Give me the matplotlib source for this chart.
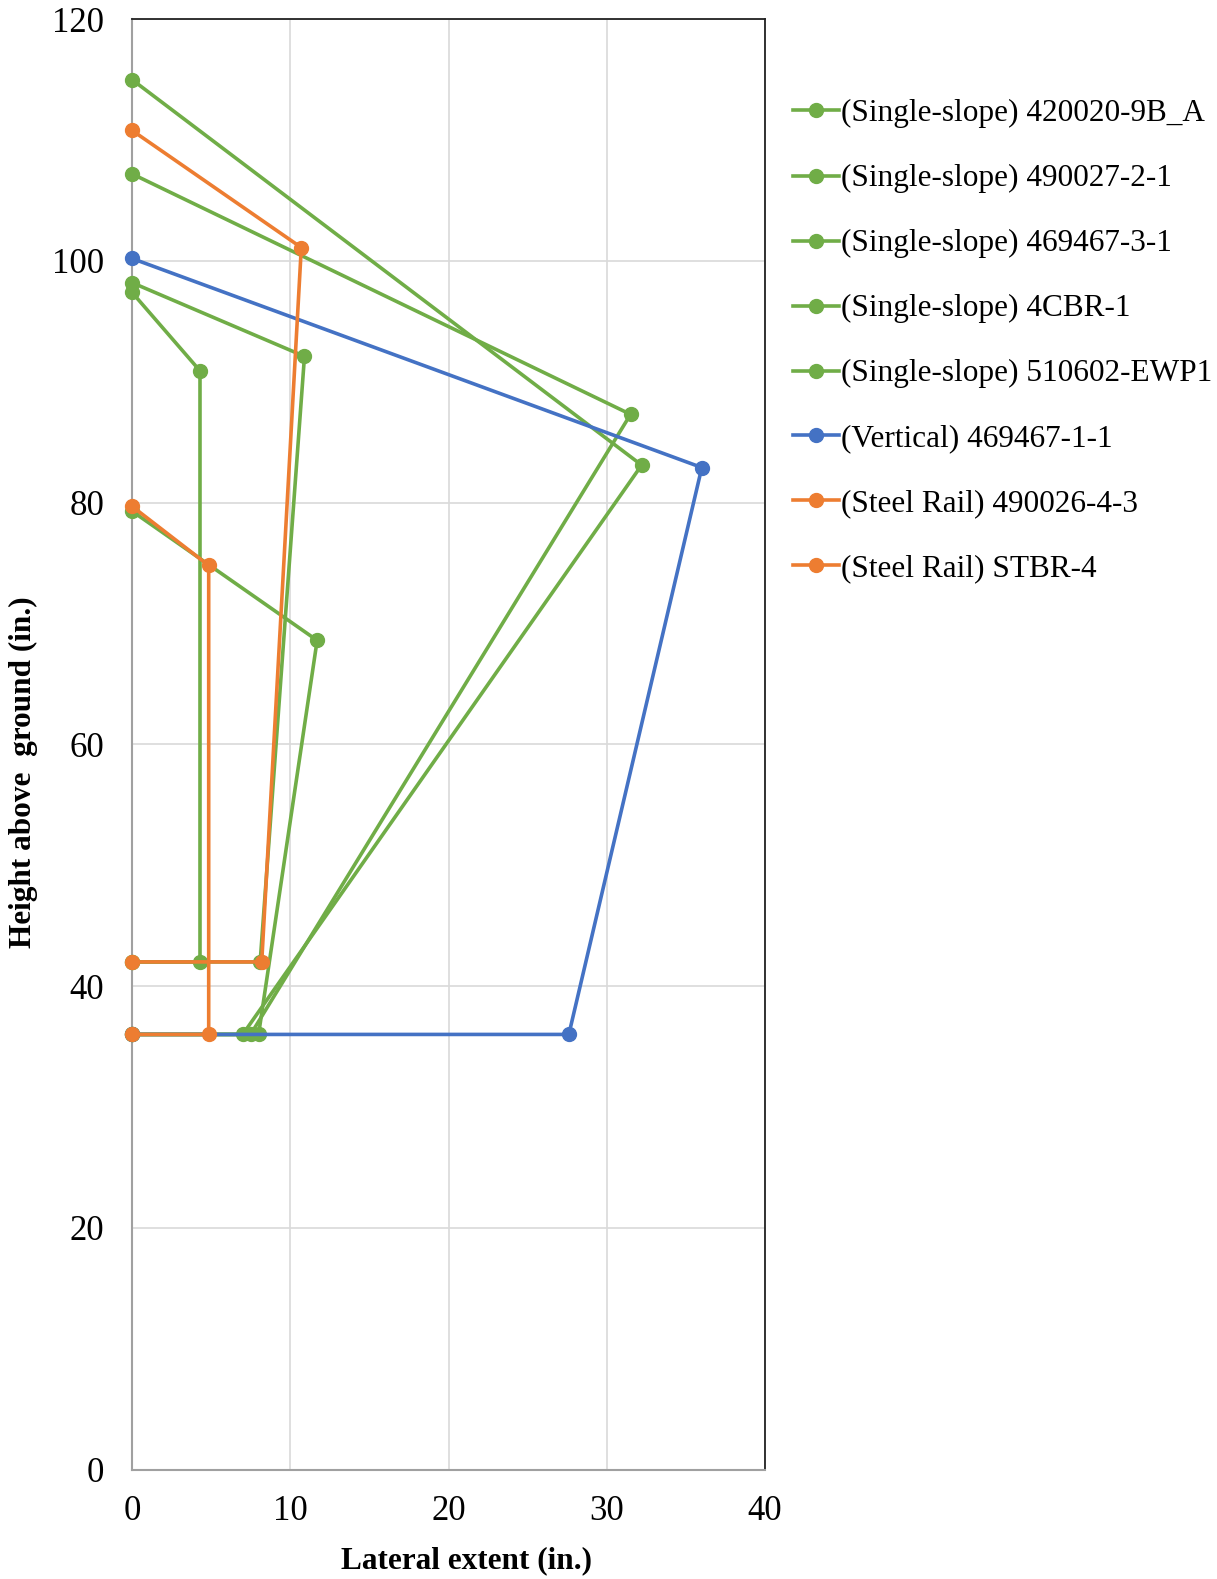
import matplotlib.pyplot as plt

plt.rcParams['font.family'] = ['Liberation Serif', 'DejaVu Serif']

GREEN = "#70AD47"
ORANGE = "#ED7D31"
BLUE = "#4472C4"

# x = lateral extent, y = height above ground (in.)
ss_420020_x = [0, 32.2, 7.0, 0]
ss_420020_y = [115.0, 83.1, 36, 36]
ss_490027_x = [0, 31.5, 7.5, 0]
ss_490027_y = [107.2, 87.3, 36, 36]
ss_469467_x = [0, 11.7, 8.0, 0]
ss_469467_y = [79.3, 68.6, 36, 36]
ss_4cbr_x = [0, 10.9, 8.1, 0]
ss_4cbr_y = [98.2, 92.1, 42, 42]
ss_510602_x = [0, 4.3, 4.3, 0]
ss_510602_y = [97.4, 90.9, 42, 42]
vert_469467_x = [0, 36.0, 27.6, 0]
vert_469467_y = [100.2, 82.9, 36, 36]
steel_490026_x = [0, 10.7, 8.2, 0]
steel_490026_y = [110.8, 101.1, 42, 42]
steel_stbr_x = [0, 4.85, 4.85, 0]
steel_stbr_y = [79.7, 74.8, 36, 36]

series = [
    ("(Single-slope) 420020-9B_A", ss_420020_x, ss_420020_y, GREEN),
    ("(Single-slope) 490027-2-1", ss_490027_x, ss_490027_y, GREEN),
    ("(Single-slope) 469467-3-1", ss_469467_x, ss_469467_y, GREEN),
    ("(Single-slope) 4CBR-1", ss_4cbr_x, ss_4cbr_y, GREEN),
    ("(Single-slope) 510602-EWP1", ss_510602_x, ss_510602_y, GREEN),
    ("(Vertical) 469467-1-1", vert_469467_x, vert_469467_y, BLUE),
    ("(Steel Rail) 490026-4-3", steel_490026_x, steel_490026_y, ORANGE),
    ("(Steel Rail) STBR-4", steel_stbr_x, steel_stbr_y, ORANGE),
]

fig = plt.figure(figsize=(12.17, 15.79), dpi=100)
ax = fig.add_axes([0.1084, 0.0693, 0.5203, 0.9186])

for label, xs, ys, col in series:
    ax.plot(xs, ys, color=col, lw=2.6, marker="o", ms=10, label=label,
            solid_joinstyle="round", clip_on=False, zorder=3)

ax.set_xlim(0, 40)
ax.set_ylim(0, 120)
ax.set_xticks(range(0, 41, 10))
ax.set_yticks(range(0, 121, 20))
ax.grid(True, color="#d9d9d9", lw=1.2)
ax.set_axisbelow(True)
ax.tick_params(length=0, labelsize=25)
ax.tick_params(axis="y", pad=20)
ax.tick_params(axis="x", pad=18)

for side in ["top", "right"]:
    ax.spines[side].set_color("#222222")
    ax.spines[side].set_linewidth(1.3)
for side in ["left", "bottom"]:
    ax.spines[side].set_color("#a0a0a0")
    ax.spines[side].set_linewidth(1.5)

ax.set_xlabel("Lateral extent (in.)", fontsize=22.5, fontweight="bold", va="top")
ax.xaxis.set_label_coords(0.528, -0.053)
ax.set_ylabel("Height above  ground (in.)", fontsize=22.5, fontweight="bold")
ax.yaxis.set_label_coords(-0.148, 0.481)

fig.legend(loc="upper left", bbox_to_anchor=(0.641, 0.945), frameon=False,
           fontsize=22.5, handlelength=1.5, handletextpad=0.05, labelspacing=1.15,
           borderaxespad=0)

fig.savefig("out.png", dpi=100)
